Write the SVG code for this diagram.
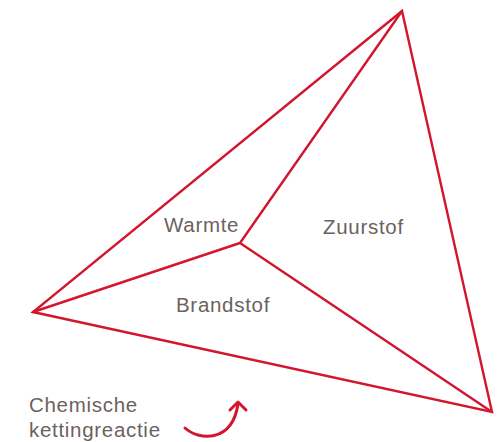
<svg xmlns="http://www.w3.org/2000/svg" width="497" height="442" viewBox="0 0 497 442">
<style>
.e{stroke:#d2162e;stroke-width:2.4;fill:none;stroke-linejoin:miter;stroke-linecap:round}
.a{stroke:#d2162e;stroke-width:3;fill:none;stroke-linejoin:round;stroke-linecap:round}
.t{font-family:"Liberation Sans",Arial,sans-serif;font-size:20.5px;letter-spacing:0.7px;fill:#6b625e}
</style>
<rect width="497" height="442" fill="#fff"/>
<g id="connectors">
<path class="e" d="M402,11 L33,312 L492,412 Z"/>
<path class="e" d="M240,243 L402,11 M240,243 L33,312 M240,243 L492,412"/>
<path class="a" d="M185,428 C198,440 232,444 238,404"/>
<path class="a" d="M230,410 L238,402 L246,410"/>
</g>
<g id="warmte"><text class="t" x="164" y="232">Warmte</text></g>
<g id="zuurstof"><text class="t" x="323" y="234">Zuurstof</text></g>
<g id="brandstof"><text class="t" x="176" y="312">Brandstof</text></g>
<g id="chemische"><text class="t" x="29" y="412">Chemische</text><text class="t" x="29" y="437">kettingreactie</text></g>
</svg>
